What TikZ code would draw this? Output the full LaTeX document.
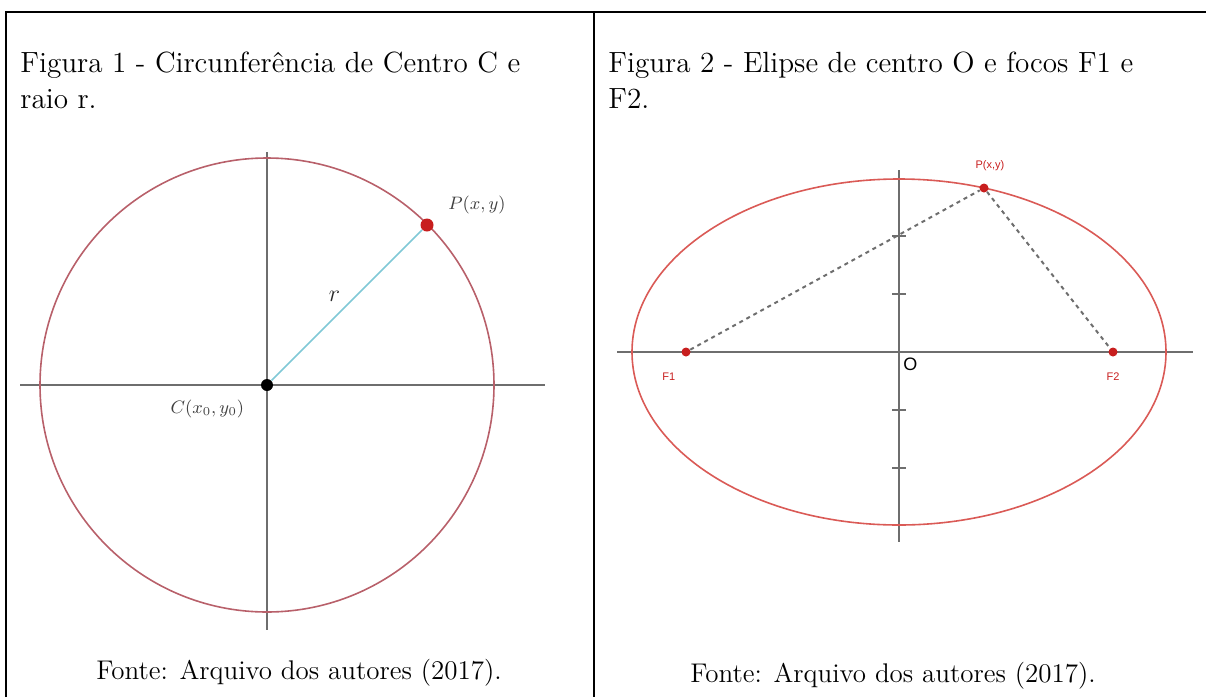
\documentclass[tikz,border=0pt]{standalone}
\usepackage{fontspec}
\setsansfont{Liberation Sans}
\usepackage{amsmath}
\usepackage{tikz}
\usetikzlibrary{positioning}

\definecolor{axisgray}{HTML}{6E6E6E}
\definecolor{circrose}{HTML}{B8606A}
\definecolor{ellred}{HTML}{DA5A56}
\definecolor{radblue}{HTML}{80C8D6}
\definecolor{ptred}{HTML}{C81E1E}

\tikzset{
  axis/.style={axisgray,line width=1pt},
  dot/.style={circle,fill=ptred,inner sep=0pt,minimum size=6pt},
  heading/.style={anchor=base west,inner sep=0pt,font=\fontsize{14.6}{18}\selectfont},
  source/.style={inner sep=0pt,font=\fontsize{13.5}{16}\selectfont},
  geolabel/.style={inner sep=0pt,text=black!75,font=\fontsize{9}{10}\selectfont},
  foclabel/.style={inner sep=0pt,text=ptred,font=\sffamily\fontsize{5.5}{7}\selectfont}
}

\begin{document}
\begin{tikzpicture}[x=0.5pt,y=-0.5pt]
  \useasboundingbox (0,0) rectangle (1206,697);
  % frame of the two panels
  \draw[line width=1.2pt] (6,697) |- (1206,12);
  \draw[line width=1.2pt] (594,12) -- (594,697);

  \begin{scope}
    \node[heading] (tit1) at (20,72) {Figura 1 - Circunferência de Centro C e};
    \node[heading] (tit1b) at (20,108) {raio r.};
    \coordinate (c1) at (267,385);
    \draw[axis] (20,385) -- (545,385);
    \draw[axis] (267,152) -- (267,630);
    \draw[circrose,line width=0.8pt] (c1) circle[radius=227];
    \node[dot,fill=black] (C) at (c1) {};
    \node[dot,minimum size=6.5pt] (P) at (427,225) {};
    \draw[radblue,line width=0.8pt] (C) -- (P)
      node[pos=0.5,above left=1.5pt and 3pt,inner sep=0pt,text=black!85,font=\fontsize{12}{12}\selectfont] (rlab) {$r$};
    \node[geolabel,above right=3pt and 8pt of P] (Plab) {$P(x,y)$};
    \node[geolabel,below left=5pt and 9pt of C] (Clab) {$C(x_0,y_0)$};
    \node[source] (src1) at (299,673) {Fonte: Arquivo dos autores (2017).};
  \end{scope}

  \begin{scope}
    \node[heading] (tit2) at (608,72) {Figura 2 - Elipse de centro O e focos F1 e};
    \node[heading] (tit2b) at (608,108) {F2.};
    \coordinate (c2) at (899,352);
    \draw[axis] (617,352) -- (1193,352);
    \draw[axis] (899,170) -- (899,542);
    \foreach \t in {236,294,410,468}
      \draw[axis] (892,\t) -- (906,\t);
    \draw[ellred,line width=0.8pt] (c2) ellipse[x radius=267,y radius=173];
    \node[dot,minimum size=4.5pt] (F1) at (686,352) {};
    \node[dot,minimum size=4.5pt] (F2) at (1113,352) {};
    \node[dot,minimum size=4.5pt] (Pe) at (984,188) {};
    \draw[axisgray,line width=1pt,dash pattern=on 2pt off 2pt] (F1) -- (Pe) -- (F2);
    \node[foclabel,below left=8.5pt and 3.5pt of F1] (F1lab) {F1};
    \node[foclabel,below=8pt of F2] (F2lab) {F2};
    \node[foclabel,above=6pt of Pe,xshift=3pt] (Pelab) {P(x,y)};
    \node[inner sep=0pt,font=\sffamily\fontsize{9}{10}\selectfont,below right=3pt and 2pt of c2] (Olab) {O};
    \node[source] (src2) at (893,676) {Fonte: Arquivo dos autores (2017).};
  \end{scope}
\end{tikzpicture}
\end{document}
